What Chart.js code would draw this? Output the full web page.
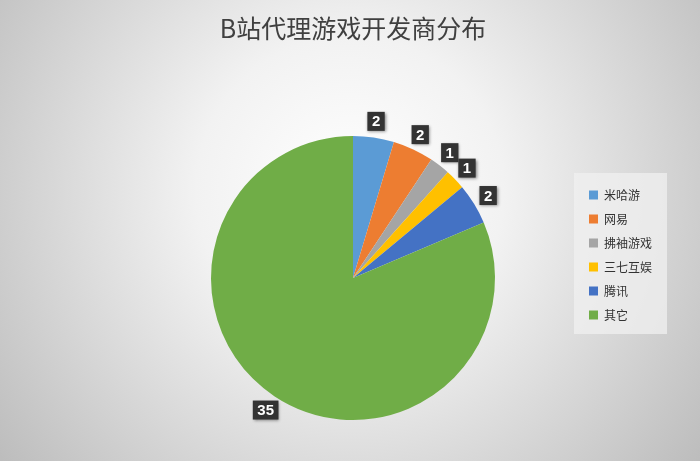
<!DOCTYPE html>
<html>
<head>
<meta charset="utf-8">
<script src="https://cdn.jsdelivr.net/npm/chart.js@4/dist/chart.umd.min.js"></script>
<style>
  html, body { margin: 0; padding: 0; }
  #wrap { width: 700px; height: 461px; }
</style>
</head>
<body>
<div id="wrap"><canvas id="chart"></canvas></div>
<script>
const titleText = 'B站代理游戏开发商分布';
const publishers = ['米哈游', '网易', '拂袖游戏', '三七互娱', '腾讯', '其它'];
const gameCounts = [2, 2, 1, 1, 2, 35];
const sliceColors = ['#5B9BD5', '#ED7D31', '#A5A5A5', '#FFC000', '#4472C4', '#70AD47'];

const CJK = '"Noto Sans CJK SC", "Noto Sans", sans-serif';

// radial grey backdrop plus the pale panel behind the legend
const backdropPlugin = {
  id: 'backdrop',
  beforeDraw(chart) {
    const { ctx, width, height, legend } = chart;
    ctx.save();
    const g = ctx.createRadialGradient(350, 190, 0, 350, 190, 440);
    g.addColorStop(0, '#ffffff');
    g.addColorStop(0.35, '#f2f2f2');
    g.addColorStop(1, '#bdbdbd');
    ctx.fillStyle = g;
    ctx.fillRect(0, 0, width, height);
    if (legend) {
      ctx.fillStyle = 'rgba(240,240,240,0.75)';
      ctx.fillRect(legend.left - 3, 173, 93, 161);
    }
    ctx.restore();
  },
};

// dark value tags just outside each slice
const valueTagPlugin = {
  id: 'valueTags',
  afterDatasetsDraw(chart) {
    const { ctx } = chart;
    const meta = chart.getDatasetMeta(0);
    ctx.save();
    ctx.font = 'bold 15px "Liberation Sans", Arial, sans-serif';
    ctx.textAlign = 'center';
    ctx.textBaseline = 'middle';
    meta.data.forEach((arc, i) => {
      const { x, y, startAngle, endAngle, outerRadius } = arc.getProps(['x', 'y', 'startAngle', 'endAngle', 'outerRadius'], true);
      const mid = (startAngle + endAngle) / 2;
      const r = outerRadius * 1.115;
      const cx = x + Math.cos(mid) * r;
      const cy = y + Math.sin(mid) * r;
      const text = String(gameCounts[i]);
      const w = ctx.measureText(text).width + 9;
      const h = 19;
      ctx.shadowColor = 'rgba(0,0,0,0.45)';
      ctx.shadowBlur = 3;
      ctx.shadowOffsetX = 1;
      ctx.shadowOffsetY = 1;
      ctx.fillStyle = '#333333';
      ctx.fillRect(cx - w / 2, cy - h / 2, w, h);
      ctx.shadowColor = 'transparent';
      ctx.fillStyle = '#ffffff';
      ctx.fillText(text, cx, cy + 1);
    });
    ctx.restore();
  },
};

new Chart(document.getElementById('chart'), {
  type: 'pie',
  data: {
    labels: publishers,
    datasets: [{
      data: gameCounts,
      backgroundColor: sliceColors,
      borderWidth: 0,
      radius: 142,
      clip: false,
    }],
  },
  options: {
    responsive: true,
    maintainAspectRatio: false,
    animation: false,
    layout: { padding: { top: 0, left: 129, right: 38, bottom: 82 } },
    plugins: {
      title: {
        display: true,
        fullSize: false,
        text: titleText,
        color: '#404040',
        font: { family: CJK, size: 25, weight: 'normal' },
        padding: { top: 13, bottom: 134 },
      },
      legend: {
        position: 'right',
        align: 'start',
        fullSize: false,
        labels: {
          boxWidth: 9,
          boxHeight: 9,
          padding: 12,
          color: '#333333',
          font: { family: CJK, size: 12 },
        },
      },
      tooltip: { enabled: false },
    },
  },
  plugins: [backdropPlugin, valueTagPlugin],
});
</script>
</body>
</html>
